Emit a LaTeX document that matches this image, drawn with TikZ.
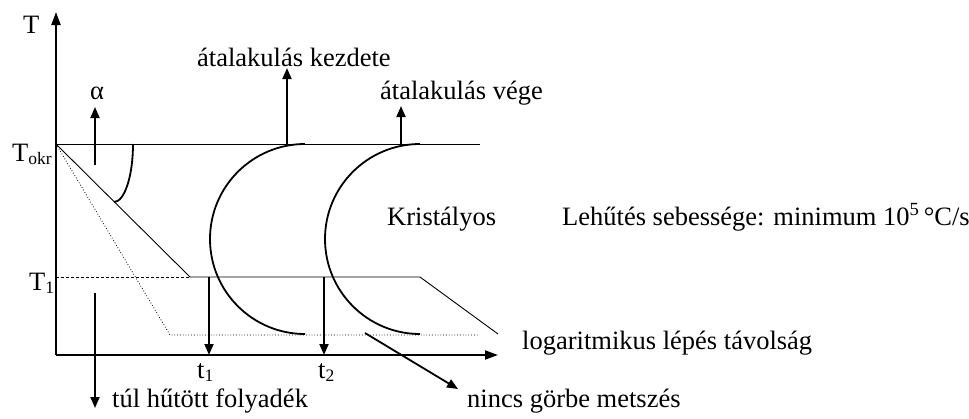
\documentclass[tikz,border=0pt]{standalone}
\usepackage{fontspec}
\setmainfont{Liberation Serif}
\usetikzlibrary{arrows.meta}
\newcommand{\lowsub}[1]{\raisebox{-0.13em}{\fontsize{17.5}{18}\selectfont #1}}
\begin{document}
\begin{tikzpicture}[x=1pt,y=-1pt,
  lbl/.style={inner sep=0pt, anchor=base west, font=\fontsize{26.5}{30}\selectfont},
  axisline/.style={line width=2pt,-{Triangle[length=13pt,width=9pt]}},
  arr/.style={line width=1.8pt,-{Triangle[length=11pt,width=9pt]}},
  fine/.style={line width=0.9pt},
  dotline/.style={line width=0.8pt, dotted},
  dashline/.style={line width=0.9pt, dash pattern=on 3pt off 2pt},
  ccurve/.style={line width=1.8pt}]
\useasboundingbox (0,0) rectangle (969,418);
% key points
\coordinate (O) at (56,355);
\coordinate (Ytop) at (56,12);
\coordinate (Xend) at (498,355);
\coordinate (Tokr) at (56,144);
\coordinate (TokrEnd) at (480,144);
\coordinate (T1) at (56,277);
\coordinate (Knee) at (190,277);
\coordinate (LogA) at (420,277);
\coordinate (LogB) at (498,334);
\coordinate (Dk) at (170,335);
\coordinate (DEnd) at (478,335);
\coordinate (C1top) at (305,144);
\coordinate (C2top) at (420,144);
\coordinate (Atop) at (133,144);
% labels
\node[lbl] (tT) at (23,33) {T};
\node[lbl] (talpha) at (90,99) {α};
\node[lbl] (tTokr) at (12,161) {T\lowsub{okr}};
\node[lbl] (tT1) at (29,290) {T\lowsub{1}};
\node[lbl] (tkezd) at (197,66) {átalakulás kezdete};
\node[lbl] (tvege) at (380,99) {átalakulás vége};
\node[lbl] (tkrist) at (387,225) {Kristályos};
\node[lbl] (tleh) at (562,225) {Lehűtés sebessége: minimum 10\textsuperscript{5}\,°C/s};
\node[lbl] (tlog) at (522,349) {logaritmikus lépés távolság};
\node[lbl] (tnincs) at (467,407) {nincs görbe metszés};
\node[lbl] (ttul) at (112,407) {túl hűtött folyadék};
\node[lbl] (tt1) at (197,378) {t\lowsub{1}};
\node[lbl] (tt2) at (318,378) {t\lowsub{2}};
% horizontal reference lines
\draw[fine] (Tokr) -- (TokrEnd);
\draw[dashline] (T1) -- (Knee);
\draw[fine] (Knee) -- (LogA) -- (LogB);
% cooling curves
\draw[fine] (Tokr) -- (Knee);
\draw[dotline] (Tokr) -- (Dk) -- (DEnd);
% alpha curve
\draw[ccurve] (Atop) arc[start angle=0,end angle=-90,x radius=19pt,y radius=58pt];
% C curves
\draw[ccurve] (C1top) arc[start angle=90,end angle=270,radius=95pt];
\draw[ccurve] (C2top) arc[start angle=90,end angle=270,radius=95pt];
% axes
\draw[axisline] (O) -- (Ytop);
\draw[axisline] (O) -- (Xend);
% arrows
\coordinate (aA) at (95,165);
\coordinate (aAt) at (95,107);
\draw[arr] (aA) -- (aAt);
\coordinate (kA) at (287,144);
\coordinate (kAt) at (287,68);
\draw[arr] (kA) -- (kAt);
\coordinate (vA) at (401,144);
\coordinate (vAt) at (401,106);
\draw[arr] (vA) -- (vAt);
\coordinate (t1A) at (209,277);
\coordinate (t1At) at (209,355);
\draw[arr] (t1A) -- (t1At);
\coordinate (t2A) at (324,277);
\coordinate (t2At) at (324,355);
\draw[arr] (t2A) -- (t2At);
\coordinate (tuA) at (95,293);
\coordinate (tuAt) at (95,408);
\draw[arr] (tuA) -- (tuAt);
\coordinate (nA) at (365,333);
\coordinate (nAt) at (458,389);
\draw[arr] (nA) -- (nAt);
\end{tikzpicture}
\end{document}
